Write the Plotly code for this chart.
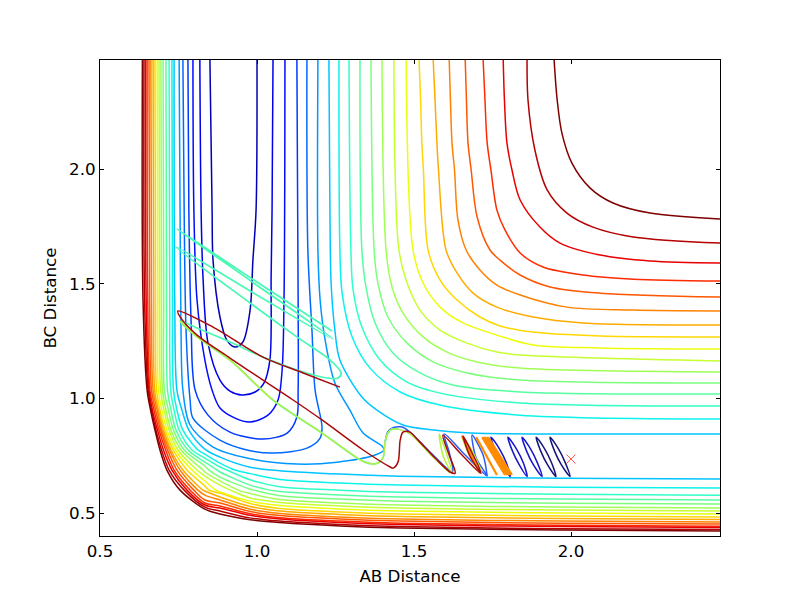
import plotly.graph_objects as go
import numpy as np

# closed U shaped levels
level1_x = [0.850, 0.857, 0.860, 0.882, 0.904, 0.930, 0.955, 0.978, 0.987, 0.997, 1.000]
level1_y = [2.48, 1.821, 1.603, 1.355, 1.254, 1.224, 1.246, 1.385, 1.603, 1.821, 2.48]
level2_x = [0.818, 0.822, 0.828, 0.844, 0.882, 0.914, 0.952, 0.994, 1.022, 1.041, 1.045, 1.048, 1.051]
level2_y = [2.48, 1.821, 1.529, 1.241, 1.080, 1.032, 1.015, 1.028, 1.067, 1.167, 1.529, 1.821, 2.48]
level3_x = [0.796, 0.799, 0.809, 0.834, 0.857, 0.882, 0.930, 0.978, 1.035, 1.067, 1.080, 1.086, 1.089]
level3_y = [2.48, 1.821, 1.429, 1.167, 1.036, 0.958, 0.914, 0.897, 0.927, 0.993, 1.124, 1.429, 2.48]
level4_x = [0.780, 0.783, 0.790, 0.803, 0.844, 0.914, 1.019, 1.096, 1.127, 1.131, 1.131, 1.127]
level4_y = [2.48, 1.821, 1.342, 1.036, 0.927, 0.853, 0.823, 0.849, 0.919, 1.036, 1.429, 2.48]
level5_x = [0.764, 0.768, 0.774, 0.787, 0.796, 0.882, 0.968, 1.051, 1.159, 1.201, 1.207, 1.185, 1.175, 1.162, 1.159]
level5_y = [2.48, 1.821, 1.298, 0.993, 0.914, 0.818, 0.775, 0.762, 0.783, 0.827, 0.875, 1.036, 1.298, 1.647, 2.48]
level6_x = [0.752, 0.755, 0.758, 0.764, 0.787, 0.860, 0.968, 1.127, 1.255, 1.376, 1.404, 1.398, 1.338, 1.296, 1.248, 1.217, 1.201, 1.194, 1.194]
level6_y = [2.48, 1.821, 1.298, 1.036, 0.884, 0.788, 0.740, 0.714, 0.722, 0.753, 0.775, 0.792, 0.849, 0.949, 1.067, 1.254, 1.429, 1.647, 2.48]

# upper right branches of the open levels
upper7_x = [1.229, 1.232, 1.236, 1.248, 1.264, 1.334, 1.382, 1.465, 1.561, 1.678, 2.061, 2.48]
upper7_y = [2.48, 1.865, 1.503, 1.298, 1.167, 1.006, 0.949, 0.884, 0.862, 0.849, 0.845, 0.845]
upper8_x = [1.261, 1.264, 1.271, 1.303, 1.360, 1.456, 1.583, 1.838, 2.48]
upper8_y = [2.48, 1.647, 1.459, 1.268, 1.132, 1.028, 0.971, 0.927, 0.910]
upper9_x = [1.293, 1.299, 1.306, 1.334, 1.392, 1.478, 1.583, 1.838, 2.48]
upper9_y = [2.48, 1.647, 1.473, 1.311, 1.167, 1.071, 1.023, 0.980, 0.967]
upper10_x = [1.328, 1.334, 1.347, 1.376, 1.433, 1.519, 1.624, 1.838, 2.48]
upper10_y = [2.48, 1.647, 1.486, 1.329, 1.198, 1.111, 1.058, 1.028, 1.019]
upper11_x = [1.363, 1.373, 1.385, 1.417, 1.478, 1.561, 1.669, 1.838, 2.48]
upper11_y = [2.48, 1.647, 1.503, 1.355, 1.241, 1.159, 1.111, 1.080, 1.067]
upper12_x = [1.398, 1.411, 1.430, 1.465, 1.529, 1.605, 1.701, 1.838, 2.48]
upper12_y = [2.48, 1.647, 1.486, 1.372, 1.268, 1.202, 1.159, 1.132, 1.115]
upper13_x = [1.436, 1.452, 1.478, 1.519, 1.583, 1.669, 1.764, 1.838, 2.48]
upper13_y = [2.48, 1.647, 1.503, 1.385, 1.298, 1.241, 1.202, 1.189, 1.163]
upper14_x = [1.475, 1.497, 1.529, 1.583, 1.656, 1.764, 1.879, 2.093, 2.48]
upper14_y = [2.48, 1.647, 1.503, 1.398, 1.329, 1.276, 1.233, 1.220, 1.215]
upper15_x = [1.516, 1.521, 1.525, 1.530, 1.545, 1.583, 1.637, 1.710, 1.774, 1.879, 2.093, 2.48]
upper15_y = [2.48, 2.301, 2.114, 1.996, 1.647, 1.516, 1.429, 1.355, 1.316, 1.289, 1.272, 1.268]
upper16_x = [1.561, 1.567, 1.573, 1.578, 1.602, 1.637, 1.688, 1.764, 1.879, 2.038, 2.48]
upper16_y = [2.48, 2.301, 2.114, 1.996, 1.647, 1.547, 1.459, 1.398, 1.355, 1.329, 1.320]
upper17_x = [1.612, 1.616, 1.621, 1.629, 1.640, 1.666, 1.710, 1.764, 1.838, 1.987, 2.198, 2.48]
upper17_y = [2.48, 2.301, 2.114, 1.996, 1.778, 1.647, 1.560, 1.494, 1.451, 1.398, 1.385, 1.381]
upper18_x = [1.663, 1.667, 1.672, 1.682, 1.701, 1.742, 1.774, 1.838, 1.933, 2.093, 2.48]
upper18_y = [2.48, 2.301, 2.114, 1.996, 1.791, 1.647, 1.603, 1.538, 1.486, 1.459, 1.442]
upper19_x = [1.720, 1.726, 1.733, 1.745, 1.764, 1.790, 1.838, 1.911, 2.038, 2.198, 2.48]
upper19_y = [2.48, 2.301, 2.114, 1.996, 1.821, 1.734, 1.634, 1.573, 1.538, 1.520, 1.512]
upper20_x = [1.784, 1.788, 1.796, 1.812, 1.838, 1.901, 1.965, 2.093, 2.252, 2.48]
upper20_y = [2.48, 2.301, 2.114, 1.996, 1.865, 1.747, 1.677, 1.625, 1.599, 1.590]
upper21_x = [1.860, 1.863, 1.885, 1.924, 1.987, 2.070, 2.198, 2.48]
upper21_y = [2.48, 2.301, 2.083, 1.909, 1.808, 1.747, 1.704, 1.677]
upper22_x = [1.946, 1.956, 1.971, 2.003, 2.061, 2.134, 2.252, 2.48]
upper22_y = [2.48, 2.301, 2.157, 2.026, 1.917, 1.852, 1.808, 1.782]

# left/lower branches of levels 7..22: x where each crosses a given y
x_at_top = [0.736, 0.729, 0.720, 0.710, 0.701, 0.694, 0.688, 0.682, 0.675, 0.669, 0.662, 0.656, 0.650, 0.645, 0.640, 0.635]
x_at_143 = [0.738, 0.731, 0.722, 0.712, 0.703, 0.696, 0.690, 0.684, 0.677, 0.671, 0.664, 0.658, 0.652, 0.647, 0.642, 0.637]
x_at_104 = [0.745, 0.734, 0.725, 0.715, 0.705, 0.699, 0.693, 0.686, 0.680, 0.674, 0.669, 0.664, 0.659, 0.656, 0.653, 0.650]
x_at_095 = [0.761, 0.745, 0.736, 0.726, 0.718, 0.710, 0.704, 0.697, 0.691, 0.686, 0.682, 0.677, 0.672, 0.667, 0.664, 0.661]
x_at_086 = [0.783, 0.764, 0.752, 0.742, 0.734, 0.726, 0.720, 0.713, 0.707, 0.702, 0.697, 0.693, 0.688, 0.683, 0.678, 0.675]
x_at_078 = [None, 0.812, 0.793, 0.780, 0.768, 0.758, 0.748, 0.740, 0.733, 0.726, 0.721, 0.715, 0.709, 0.702, 0.696, 0.691]
x_at_069 = [None, 0.930, 0.904, 0.873, 0.847, 0.828, 0.809, 0.793, 0.777, 0.764, 0.755, 0.745, 0.736, 0.729, 0.720, 0.713]
x_at_060 = [None, None, None, 1.041, 0.990, 0.940, 0.915, 0.869, 0.847, 0.828, 0.812, 0.799, 0.787, 0.777, 0.768, 0.755]
# and y where each crosses a given x
y_at_083 = [0.779, 0.757, 0.740, 0.722, 0.705, 0.679, 0.661, 0.640, 0.618, 0.596, 0.578, 0.557, 0.544, 0.535, 0.526, 0.517]
y_at_088 = [0.744, 0.718, 0.701, 0.679, 0.657, 0.640, 0.622, 0.592, 0.587, 0.570, 0.557, 0.544, 0.531, 0.522, 0.509, 0.496]
y_at_098 = [0.700, 0.672, 0.645, 0.622, 0.604, 0.585, 0.566, 0.552, 0.542, 0.529, 0.517, 0.507, 0.497, 0.490, 0.479, 0.471]
y_at_107 = [0.685, 0.646, 0.615, 0.594, 0.576, 0.559, 0.546, 0.533, 0.520, 0.509, 0.498, 0.489, 0.480, 0.474, 0.465, 0.459]
y_at_126 = [0.670, 0.631, 0.600, 0.579, 0.561, 0.544, 0.531, 0.518, 0.505, 0.494, 0.483, 0.474, 0.465, 0.459, 0.450, 0.444]
y_at_146 = [0.661, 0.622, 0.591, 0.570, 0.552, 0.535, 0.522, 0.509, 0.496, 0.485, 0.474, 0.465, 0.456, 0.450, 0.441, 0.435]
y_at_197 = [0.652, 0.613, 0.582, 0.561, 0.543, 0.526, 0.513, 0.500, 0.487, 0.476, 0.465, 0.456, 0.447, 0.441, 0.432, 0.426]
y_at_end = [0.648, 0.609, 0.578, 0.557, 0.539, 0.522, 0.509, 0.496, 0.483, 0.472, 0.461, 0.452, 0.443, 0.437, 0.428, 0.422]

# trajectories, None breaks the line between the separate loops
navy_x = [1.933, 1.961, 1.982, 1.997, 1.969, 1.948, 1.933, None, 1.889, 1.917, 1.938, 1.952, 1.925, 1.904, 1.889]
navy_y = [0.831, 0.778, 0.719, 0.659, 0.711, 0.769, 0.831, None, 0.831, 0.778, 0.719, 0.659, 0.711, 0.769, 0.831]
blue_x = [1.844, 1.872, 1.893, 1.908, 1.880, 1.859, 1.844, None, 1.799, 1.827, 1.848, 1.860, 1.835, 1.814, 1.799, None,
          1.745, 1.773, 1.794, 1.806, 1.781, 1.760, 1.745]
blue_y = [0.831, 0.778, 0.719, 0.659, 0.711, 0.769, 0.831, None, 0.831, 0.778, 0.719, 0.659, 0.711, 0.769, 0.831, None,
          0.831, 0.778, 0.719, 0.659, 0.711, 0.769, 0.831]
royal_x = [1.408, 1.417, 1.433, 1.462, 1.487, 1.551, 1.621, 1.624, 1.612, 1.596, 1.663, 1.733, 1.698, 1.685, 1.720, 1.733]
royal_y = [0.810, 0.855, 0.872, 0.875, 0.853, 0.766, 0.679, 0.688, 0.766, 0.845, 0.753, 0.661, 0.740, 0.840, 0.753, 0.661]
orange_x = [1.653, 1.710, None, 1.698, 1.764, None, 1.717, 1.790, None, 1.722, 1.797, None, 1.726, 1.803, None, 1.731, 1.808, None, 1.736, 1.812]
orange_y = [0.836, 0.674, None, 0.831, 0.666, None, 0.831, 0.666, None, 0.831, 0.666, None, 0.831, 0.666, None, 0.831, 0.666, None, 0.831, 0.666]
aqua_x = [1.449, 1.430, 1.417, 1.408, 1.401, 1.385, 1.370, 1.344, 1.319, 1.207, 1.051, 0.914, 0.809, 0.755, 0.809, 0.914, 1.019,
          1.127, 1.223, 1.258, 1.268, 1.233, 1.127, 0.978, 0.742, 0.990, 1.242, 0.994, 0.745, 0.990, 1.239]
aqua_y = [0.866, 0.866, 0.849, 0.810, 0.740, 0.718, 0.714, 0.722, 0.740, 0.849, 0.993, 1.167, 1.268, 1.337, 1.307, 1.246, 1.180,
          1.124, 1.089, 1.089, 1.111, 1.167, 1.268, 1.416, 1.660, 1.459, 1.259, 1.499, 1.739, 1.516, 1.294]
lime_x = [1.653, 1.689, 1.715, 1.677, 1.653, None, 1.580, 1.602, 1.621, 1.594, 1.580, None, 1.615, 1.551, 1.487, 1.449, 1.430, 1.417,
          1.408, 1.401, 1.385, 1.370, 1.344, 1.319, 1.207, 1.051, 0.914, 0.809, 0.755]
lime_y = [0.836, 0.762, 0.674, 0.749, 0.836, None, 0.845, 0.766, 0.674, 0.744, 0.845, None, 0.674, 0.757, 0.845, 0.866, 0.866, 0.849,
          0.810, 0.740, 0.718, 0.714, 0.722, 0.740, 0.849, 0.993, 1.167, 1.268, 1.337]
red_x = [1.264, 1.147, 1.019, 0.860, 0.748, 0.755, 0.809, 0.914, 1.019, 1.115, 1.207, 1.338, 1.424, 1.433, 1.449, 1.456, 1.465, 1.487,
         1.513, 1.567, 1.615, 1.631, 1.612, 1.592, 1.653, 1.713, 1.685, 1.656, 1.678, 1.713]
red_y = [1.049, 1.111, 1.180, 1.311, 1.381, 1.355, 1.276, 1.176, 1.080, 0.993, 0.906, 0.775, 0.701, 0.696, 0.722, 0.818, 0.853, 0.853,
         0.818, 0.740, 0.679, 0.674, 0.753, 0.840, 0.753, 0.674, 0.762, 0.836, 0.749, 0.674]
start_x = [2.0]
start_y = [0.7355]

x_ticks = [0.5, 1.0, 1.5, 2.0]
y_ticks = [0.5, 1.0, 1.5, 2.0]


def jet(t):
    r = np.interp(t, [0, 0.35, 0.66, 0.89, 1], [0, 0, 1, 1, 0.5])
    g = np.interp(t, [0, 0.125, 0.375, 0.64, 0.91, 1], [0, 0, 1, 1, 0, 0])
    b = np.interp(t, [0, 0.11, 0.34, 0.65, 1], [0.5, 1, 1, 0, 0])
    return "rgb(%d,%d,%d)" % (r * 255, g * 255, b * 255)


def line(x, y, color, width=1.5, smoothing=0.9):
    return go.Scatter(x=x, y=y, mode="lines", showlegend=False,
                      line=dict(color=color, width=width, shape="spline", smoothing=smoothing))


fig = go.Figure()
n_levels = 22

closed = [(level1_x, level1_y), (level2_x, level2_y), (level3_x, level3_y),
          (level4_x, level4_y), (level5_x, level5_y), (level6_x, level6_y)]
for i, (x, y) in enumerate(closed):
    fig.add_trace(line(x, y, jet((i + 1) / n_levels)))

upper = [(upper7_x, upper7_y), (upper8_x, upper8_y), (upper9_x, upper9_y), (upper10_x, upper10_y),
         (upper11_x, upper11_y), (upper12_x, upper12_y), (upper13_x, upper13_y), (upper14_x, upper14_y),
         (upper15_x, upper15_y), (upper16_x, upper16_y), (upper17_x, upper17_y), (upper18_x, upper18_y),
         (upper19_x, upper19_y), (upper20_x, upper20_y), (upper21_x, upper21_y), (upper22_x, upper22_y)]
for i, (x, y) in enumerate(upper):
    color = jet((i + 7) / n_levels)
    fig.add_trace(line(x, y, color))
    # lower branch, crossings sorted along x
    pts = [(x_at_top[i], 2.48), (x_at_143[i], 1.43), (x_at_104[i], 1.036), (x_at_095[i], 0.949), (x_at_086[i], 0.862),
           (x_at_078[i], 0.775), (x_at_069[i], 0.6875), (x_at_060[i], 0.6),
           (0.834, y_at_083[i]), (0.882, y_at_088[i]), (0.978, y_at_098[i]),
           (1.073, y_at_107[i]), (1.264, y_at_126[i]), (1.456, y_at_146[i]), (1.965, y_at_197[i]), (2.48, y_at_end[i])]
    pts = sorted(p for p in pts if p[0] is not None)
    fig.add_trace(line([p[0] for p in pts], [p[1] for p in pts], color))

fig.add_trace(line(navy_x, navy_y, "#14147f"))
fig.add_trace(line(blue_x, blue_y, "#1414cc"))
fig.add_trace(line(royal_x, royal_y, "#2a5cf0"))
fig.add_trace(line(aqua_x, aqua_y, "#48f8b4", width=1.7))
fig.add_trace(line(lime_x, lime_y, "#b4f040"))
fig.add_trace(go.Scatter(x=orange_x, y=orange_y, mode="lines", showlegend=False,
                         line=dict(color="#ff8c00", width=2.2)))
fig.add_trace(line(red_x, red_y, "#a80a0a"))
fig.add_trace(go.Scatter(x=start_x, y=start_y, mode="markers", showlegend=False,
                         marker=dict(symbol="x-thin", size=9, color="#ff0000",
                                     line=dict(color="#ff0000", width=0.7))))

axis = dict(showgrid=False, zeroline=False, showline=True, linecolor="black", linewidth=1,
            mirror="allticks", ticks="inside", ticklen=4, tickcolor="black", tickwidth=1,
            tickformat=".1f", tickfont=dict(size=16.7, color="black"), automargin=False)
# the page adds 8px around the plot
fig.update_layout(
    width=784, height=581, margin=dict(l=92, r=72, t=52, b=53),
    paper_bgcolor="white", plot_bgcolor="white",
    font=dict(family="DejaVu Sans", color="black"),
    xaxis=dict(range=[0.5, 2.4745], tickvals=x_ticks, title=dict(text="AB Distance", font=dict(size=16.7), standoff=10), **axis),
    yaxis=dict(range=[0.4, 2.4755], tickvals=y_ticks, title=dict(text="BC Distance", font=dict(size=16.7), standoff=8), **axis),
)

fig.write_html("out.html")
